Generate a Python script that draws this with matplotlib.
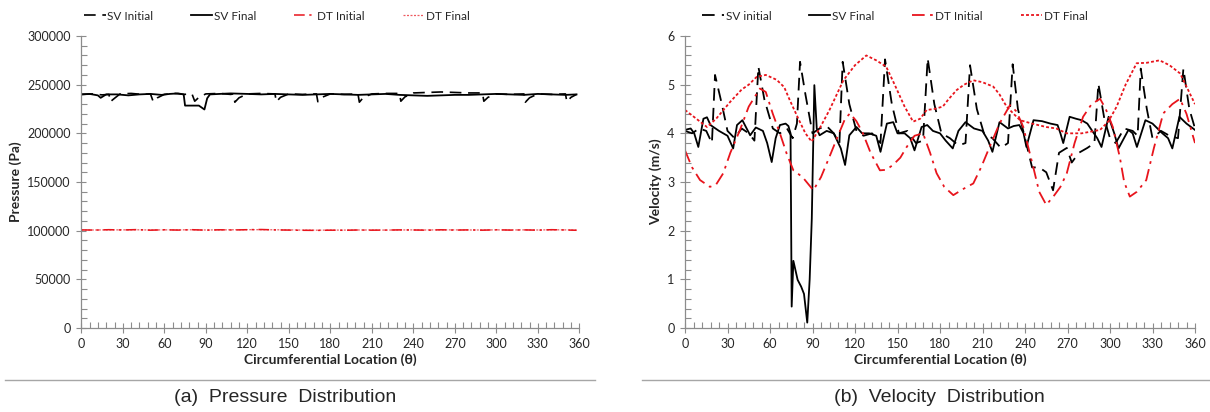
import matplotlib
matplotlib.use('Agg')
import matplotlib.pyplot as plt
from matplotlib import font_manager
from matplotlib.lines import Line2D
from matplotlib.ticker import MultipleLocator

# ---- data ----
# pressure, SV initial (dashed)
p_svi_theta = [0, 8, 15, 20, 21, 24, 28, 36, 44, 50, 52, 55, 60, 68, 74, 80, 82, 85, 90, 100,
               108, 110, 111, 114, 120, 130, 140, 141, 144, 150, 160, 170, 171, 174, 180, 190,
               200, 201, 204, 210, 220, 230, 231, 234, 240, 250, 260, 270, 280, 290, 291, 294,
               300, 310, 320, 321, 324, 330, 340, 350, 351, 354, 358]
p_svi = [240000, 240500, 239500, 240000, 232500, 236000, 240500, 241000, 240000, 240500,
         232500, 236500, 240000, 241000, 240000, 240500, 233000, 237000, 240500, 241000,
         240000, 240500, 232000, 236500, 240500, 241000, 240500, 232500, 237000, 240500,
         240000, 240500, 232500, 237000, 240500, 240000, 240500, 232000, 237000, 240500,
         241000, 241000, 233000, 237500, 241500, 242000, 242500, 242000, 241500, 241500,
         233000, 237000, 240500, 240000, 240500, 232000, 236500, 240500, 240000, 240500,
         232500, 237000, 240000]
# pressure, SV final (solid)
p_svf_theta = [0, 6, 12, 14, 18, 26, 34, 42, 50, 58, 64, 70, 74, 75, 85, 87, 89, 91, 93, 100,
               108, 120, 130, 140, 150, 160, 170, 180, 190, 200, 210, 220, 230, 240, 250, 260,
               270, 280, 290, 300, 310, 320, 330, 340, 350, 358]
p_svf = [240000, 240500, 239000, 236500, 240000, 240000, 239000, 240000, 240500, 239500,
         240500, 241000, 240000, 228500, 228500, 226500, 224500, 236000, 240000, 240500,
         241000, 240500, 240000, 240500, 240000, 239500, 240000, 240500, 240000, 239500,
         240000, 240500, 239500, 239000, 238500, 239000, 239500, 239500, 240000, 240500,
         240000, 239500, 240500, 240000, 239500, 240000]
# pressure, DT initial / final
p_dt_theta = [0, 10, 20, 30, 40, 50, 60, 70, 80, 90, 100, 110, 120, 130, 140, 150, 160, 170,
              180, 190, 200, 210, 220, 230, 240, 250, 260, 270, 280, 290, 300, 310, 320, 330,
              340, 350, 358]
p_dti = [100800, 100600, 101000, 100700, 101100, 100500, 100900, 100600, 101000, 100500,
         100900, 100700, 101000, 101200, 100800, 100600, 100400, 100300, 100500, 100400,
         100700, 100500, 100600, 100800, 100700, 100500, 100900, 100600, 100800, 100500,
         100900, 100600, 100800, 100500, 101000, 100700, 100400]
p_dtf = [100600, 100700, 100800, 100800, 100900, 100700, 100800, 100800, 100900, 100700,
         100800, 100900, 101000, 101000, 100900, 100800, 100600, 100500, 100600, 100600,
         100700, 100700, 100600, 100700, 100800, 100700, 100800, 100800, 100700, 100700,
         100800, 100700, 100800, 100700, 100900, 100800, 100600]

# velocity, SV initial (dashed)
v_svi_theta = [0, 5, 10, 15, 19, 21.2, 26, 30, 35, 40, 45, 49, 51.8, 56, 62, 67, 72, 76, 79,
               81.2, 85, 90, 95, 100, 105, 109, 111.3, 116, 121, 126, 132, 138, 141.2, 146,
               151, 157, 163, 168, 171.3, 176, 181, 187, 193, 198, 201.2, 206, 211, 217, 223,
               228, 231.3, 235, 240, 245, 250, 255, 259.8, 264, 269.5, 273, 278, 284, 289,
               291.8, 296, 300, 304, 310, 316, 319.5, 321.7, 326, 330, 336, 342, 348, 351.8,
               356, 360]
v_svi = [4.05, 4.0, 4.1, 4.05, 3.8, 5.2, 4.6, 4.05, 3.9, 4.1, 4.0, 3.85, 5.37, 4.7, 4.1, 4.0,
         4.1, 3.9, 4.2, 5.47, 4.8, 4.0, 4.1, 4.15, 4.0, 3.8, 5.47, 4.6, 4.05, 3.95, 4.0, 3.8,
         5.52, 4.6, 4.0, 4.05, 3.8, 3.85, 5.54, 4.6, 4.0, 3.9, 3.75, 3.8, 5.4, 4.5, 4.0, 3.9,
         3.7, 3.8, 5.42, 4.5, 3.9, 3.3, 3.3, 3.2, 2.83, 3.6, 3.7, 3.4, 3.6, 3.7, 3.8, 5.02,
         4.3, 3.9, 3.8, 4.1, 4.05, 3.95, 5.33, 4.5, 3.9, 4.05, 3.95, 3.9, 5.33, 4.5, 4.1]
# velocity, SV final (solid)
v_svf_theta = [0, 4, 6.5, 9.4, 13, 15.5, 18, 24, 30, 34, 36.7, 40.5, 46, 50, 55, 58, 61.2, 64,
               67, 71, 73, 74.5, 75.3, 76.5, 79.5, 82, 84, 86.3, 88, 89.5, 91.3, 93, 95, 100,
               105, 110, 113, 116, 121, 125, 130, 135, 138, 142.5, 147, 150, 155, 159, 162,
               167, 171, 175, 180, 184, 189, 193, 198, 204, 210, 214, 217, 222, 228, 232, 236,
               239, 241, 246, 252, 258, 263, 265, 267, 271.5, 276, 280, 284, 287, 291, 294,
               299, 303, 306, 313, 316, 319, 325, 330, 337, 341, 344, 349, 354, 360]
v_svf = [4.07, 4.1, 4.0, 3.72, 4.3, 4.33, 4.17, 4.05, 3.95, 3.69, 4.17, 4.27, 3.96, 4.12,
         4.05, 3.8, 3.41, 3.9, 4.17, 4.2, 4.15, 4.0, 0.44, 1.38, 0.99, 0.85, 0.7, 0.11, 1.0,
         2.25, 4.99, 4.1, 3.96, 4.05, 4.0, 3.69, 3.35, 3.96, 4.13, 4.0, 4.0, 3.95, 3.62, 4.2,
         4.23, 4.0, 4.0, 3.9, 3.65, 4.13, 4.17, 4.05, 4.0, 3.85, 3.69, 4.05, 4.23, 4.1, 4.05,
         3.85, 3.62, 4.23, 4.1, 4.15, 4.17, 4.0, 3.72, 4.27, 4.25, 4.2, 4.17, 4.0, 3.8, 4.34,
         4.3, 4.27, 4.2, 4.07, 3.9, 3.72, 4.34, 4.0, 3.69, 4.07, 4.0, 3.72, 4.27, 4.2, 4.0,
         3.9, 3.69, 4.34, 4.2, 4.07]
# velocity, DT initial (dash-dot)
v_dti_theta = [0, 5, 10.6, 17.6, 22, 27, 32, 38.8, 45, 52.9, 57, 62, 67, 71.8, 76.5, 83, 90.6,
               96, 102, 108, 113, 116.5, 121, 125.6, 131, 137.6, 142, 146.8, 152, 156.5, 162,
               168, 173, 177.6, 183, 189.4, 196, 203.5, 209, 215, 222, 229.4, 234, 238.8, 242,
               245.8, 250, 255, 260, 265, 269.5, 275, 281, 287, 293, 297, 302, 307, 310, 314,
               319, 325.6, 331, 337.6, 344, 349.4, 354, 360]
v_dti = [3.65, 3.3, 3.04, 2.9, 2.95, 3.18, 3.6, 4.07, 4.55, 4.92, 4.85, 4.4, 4.0, 3.58, 3.24,
         3.1, 2.83, 3.1, 3.52, 3.95, 4.3, 4.41, 4.25, 4.0, 3.6, 3.24, 3.25, 3.35, 3.5, 3.72,
         3.95, 4.0, 3.6, 3.18, 2.9, 2.73, 2.85, 2.97, 3.3, 3.72, 4.2, 4.58, 4.45, 4.13, 3.75,
         3.31, 2.8, 2.53, 2.7, 2.9, 3.18, 3.8, 4.34, 4.6, 4.71, 4.5, 4.13, 3.5, 3.0, 2.7, 2.8,
         3.04, 3.7, 4.41, 4.6, 4.71, 4.4, 3.8]
# velocity, DT final (dotted)
v_dtf_theta = [0, 8, 15.5, 22, 32, 40, 45, 50.6, 57, 64.7, 70, 74, 80, 85, 89.4, 95, 102,
               111.8, 120, 128, 135, 142, 148, 155, 161, 166, 170.6, 176, 182, 186, 191.8, 197,
               203.5, 210, 217.6, 222, 227, 232, 236.5, 245, 255, 262, 269.5, 280, 293, 299,
               304.7, 311, 318.8, 326, 335, 342, 349.5, 355, 360]
v_dtf = [4.48, 4.3, 4.13, 4.3, 4.65, 4.9, 5.0, 5.16, 5.2, 5.1, 4.95, 4.68, 4.3, 4.0, 3.83,
         4.1, 4.48, 5.09, 5.4, 5.6, 5.5, 5.37, 5.0, 4.55, 4.24, 4.3, 4.48, 4.5, 4.55, 4.7,
         4.89, 5.0, 5.09, 5.05, 4.96, 4.8, 4.55, 4.4, 4.27, 4.2, 4.13, 4.1, 4.0, 4.0, 4.07,
         4.25, 4.55, 5.0, 5.44, 5.45, 5.5, 5.4, 5.23, 4.9, 4.6]

# ---- fonts ----
installed = {f.name for f in font_manager.fontManager.ttflist}
TICK_FONT = ['Lato', 'DejaVu Sans'] if 'Lato' in installed else ['DejaVu Sans']
CAP_FONT = [f for f in ('Liberation Sans Narrow', 'Liberation Sans', 'DejaVu Sans')
            if f in installed] or ['DejaVu Sans']
plt.rcParams['font.family'] = TICK_FONT

RED = '#e8141c'
GRAY = '#8c8c8c'
TXT = '#262626'

fig = plt.figure(figsize=(12.1, 4.12), dpi=100)
W, H = 1210.0, 412.0


def px_axes(x0, x1, y0, y1):
    return fig.add_axes([x0 / W, 1 - y1 / H, (x1 - x0) / W, (y1 - y0) / H])


def style(ax, ymax, ymaj, ymin, ylabel):
    ax.set_xlim(0, 360)
    ax.set_ylim(0, ymax)
    ax.xaxis.set_major_locator(MultipleLocator(30))
    ax.xaxis.set_minor_locator(MultipleLocator(6))
    ax.yaxis.set_major_locator(MultipleLocator(ymaj))
    ax.yaxis.set_minor_locator(MultipleLocator(ymin))
    for s in ('top', 'right'):
        ax.spines[s].set_visible(False)
    for s in ('left', 'bottom'):
        ax.spines[s].set_color(GRAY)
        ax.spines[s].set_linewidth(0.9)
    ax.tick_params(which='major', direction='inout', length=7, width=0.8, color=GRAY,
                   labelsize=9, labelcolor=TXT, pad=4)
    ax.tick_params(which='minor', direction='in', length=4, width=0.8, color=GRAY)
    ax.set_xlabel('Circumferential Location (θ)', fontsize=10, fontweight='bold',
                  color=TXT, labelpad=2)
    ax.set_ylabel(ylabel, fontsize=10, fontweight='bold', color=TXT, labelpad=4)


ls_svi = (0, (7, 4))
ls_dti = (0, (7, 3, 1.5, 3))
ls_dtf = (0, (1.6, 1.2))

# ---- (a) pressure ----
ax1 = px_axes(81.3, 579.3, 36, 328)
ax1.plot(p_svi_theta, p_svi, color='black', lw=1.2, ls=ls_svi, label='SV Initial')
ax1.plot(p_svf_theta, p_svf, color='black', lw=1.3, label='SV Final')
ax1.plot(p_dt_theta, p_dti, color=RED, lw=1.1, ls=ls_dti, label='DT Initial')
ax1.plot(p_dt_theta, p_dtf, color=RED, lw=0.9, ls=ls_dtf, alpha=0.7, label='DT Final')
style(ax1, 300000, 50000, 10000, 'Pressure (Pa)')

# ---- (b) velocity ----
ax2 = px_axes(685, 1195, 36, 328)
ax2.plot(v_svi_theta, v_svi, color='black', lw=1.3, ls=ls_svi, label='SV initial')
ax2.plot(v_svf_theta, v_svf, color='black', lw=1.3, label='SV Final')
ax2.plot(v_dti_theta, v_dti, color=RED, lw=1.3, ls=ls_dti, label='DT Initial')
ax2.plot(v_dtf_theta, v_dtf, color=RED, lw=1.3, ls=ls_dtf, label='DT Final')
style(ax2, 6, 1, 0.2, 'Velocity (m/s)')

for ax, cx in ((ax1, 277), (ax2, 895)):
    ax.legend(loc='center', bbox_to_anchor=(cx / W, 1 - 16 / H), bbox_transform=fig.transFigure,
              ncol=4, frameon=False, fontsize=8.5, handlelength=1.8, handletextpad=0.15,
              columnspacing=3.2, borderpad=0, labelcolor=TXT)

# separator rules and captions
fig.add_artist(Line2D([5 / W, 595 / W], [1 - 380 / H] * 2, color='#a6a6a6', lw=1.0))
fig.add_artist(Line2D([642 / W, 1210 / W], [1 - 380 / H] * 2, color='#a6a6a6', lw=1.0))
fig.text(285 / W, 1 - 398 / H, '(a)  Pressure  Distribution', ha='center', va='center',
         fontsize=14, family=CAP_FONT, color=TXT)
fig.text(939 / W, 1 - 398 / H, '(b)  Velocity  Distribution', ha='center', va='center',
         fontsize=14, family=CAP_FONT, color=TXT)

fig.savefig('out.png', dpi=100, facecolor='white')
